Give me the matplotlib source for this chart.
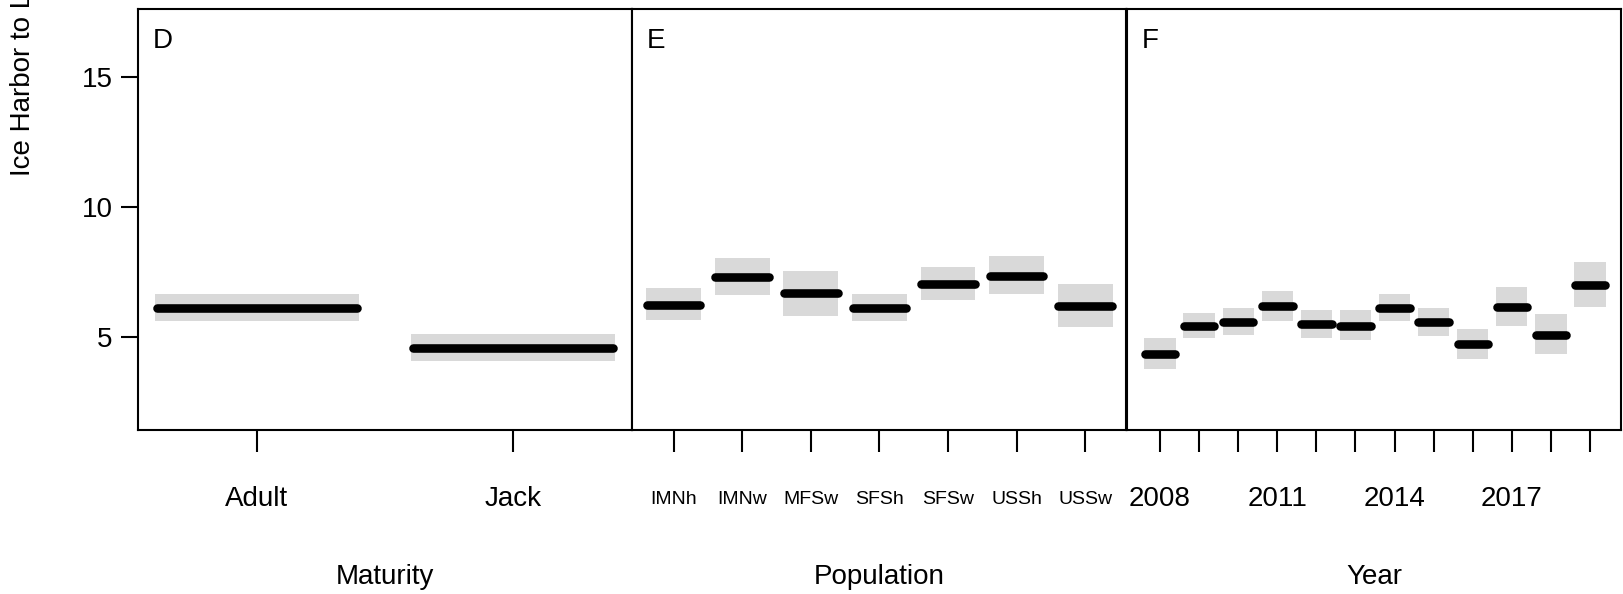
import numpy as np
import matplotlib
matplotlib.use("Agg")
import matplotlib.pyplot as plt

plt.rcParams['font.family'] = ['Liberation Sans', 'DejaVu Sans']

# Panel D: maturity
maturity = ["Adult", "Jack"]
mat_mean = [6.10, 4.57]
mat_lo = [5.60, 4.06]
mat_hi = [6.62, 5.09]

# Panel E: population
populations = ["IMNh", "IMNw", "MFSw", "SFSh", "SFSw", "USSh", "USSw"]
pop_mean = [6.22, 7.31, 6.67, 6.09, 7.04, 7.33, 6.18]
pop_lo = [5.63, 6.59, 5.80, 5.59, 6.40, 6.62, 5.35]
pop_hi = [6.86, 8.04, 7.54, 6.62, 7.68, 8.09, 7.03]

# Panel F: year
years = [2008, 2009, 2010, 2011, 2012, 2013, 2014, 2015, 2016, 2017, 2018, 2019]
yr_mean = [4.31, 5.41, 5.55, 6.18, 5.48, 5.41, 6.09, 5.55, 4.72, 6.15, 5.05, 6.99]
yr_lo = [3.75, 4.93, 5.04, 5.58, 4.96, 4.86, 5.61, 5.03, 4.13, 5.42, 4.31, 6.14]
yr_hi = [4.94, 5.90, 6.08, 6.77, 6.04, 6.01, 6.62, 6.09, 5.30, 6.91, 5.85, 7.88]
yr_labels = [str(y) if (y - 2008) % 3 == 0 else "" for y in years]

W, H = 1624, 594
fig = plt.figure(figsize=(W / 100, H / 100), dpi=100)

left_px = [137.7, 631.8, 1126.8]
pw = 494.5
top_px, bot_px = 9.3, 430.0


def panel(i, labels, mean, lo, hi, xlim, letter, title, tick_size, pad):
    ax = fig.add_axes([left_px[i] / W, 1 - bot_px / H, pw / W, (bot_px - top_px) / H])
    x = np.arange(1, len(mean) + 1)
    lo = np.array(lo)
    hi = np.array(hi)
    # grey interval boxes, black estimate bars on top
    ax.bar(x, hi - lo, bottom=lo, width=0.8, color='#d9d9d9', zorder=1)
    ax.hlines(mean, x - 0.39, x + 0.39, colors='black', linewidth=6.2,
              capstyle='round', zorder=2)
    ax.set_xlim(*xlim)
    ax.set_ylim(1.4, 17.6)
    ax.set_xticks(x)
    ax.set_xticklabels(labels, fontsize=tick_size)
    ax.tick_params(axis='x', direction='out', length=16, width=1.5, pad=pad)
    if i == 0:
        ax.set_yticks([5, 10, 15])
        ax.tick_params(axis='y', direction='out', length=12, width=1.5, pad=6,
                       labelsize=20)
    else:
        ax.set_yticks([])
    for s in ax.spines.values():
        s.set_linewidth(1.5)
    ax.text(0.031, 0.955, letter, transform=ax.transAxes, ha='left', va='top',
            fontsize=20)
    ax.text(0.5, (bot_px - 577) / (bot_px - top_px), title, transform=ax.transAxes,
            ha='center', va='center', fontsize=20)
    return ax


ax_d = panel(0, maturity, mat_mean, mat_lo, mat_hi, (0.534, 2.466), "D", "Maturity", 20, 24)
ax_e = panel(1, populations, pop_mean, pop_lo, pop_hi, (0.39, 7.6), "E", "Population", 14, 28)
ax_f = panel(2, yr_labels, yr_mean, yr_lo, yr_hi, (0.15, 12.8), "F", "Year", 20, 24)

# y label runs off the top edge, as in the original figure crop
fig.text(23 / W, 1 - 176 / H, "Ice Harbor to Lower Granite travel time (d)",
         rotation=90, ha='center', va='bottom', fontsize=20)

fig.savefig("out.png", dpi=100)
